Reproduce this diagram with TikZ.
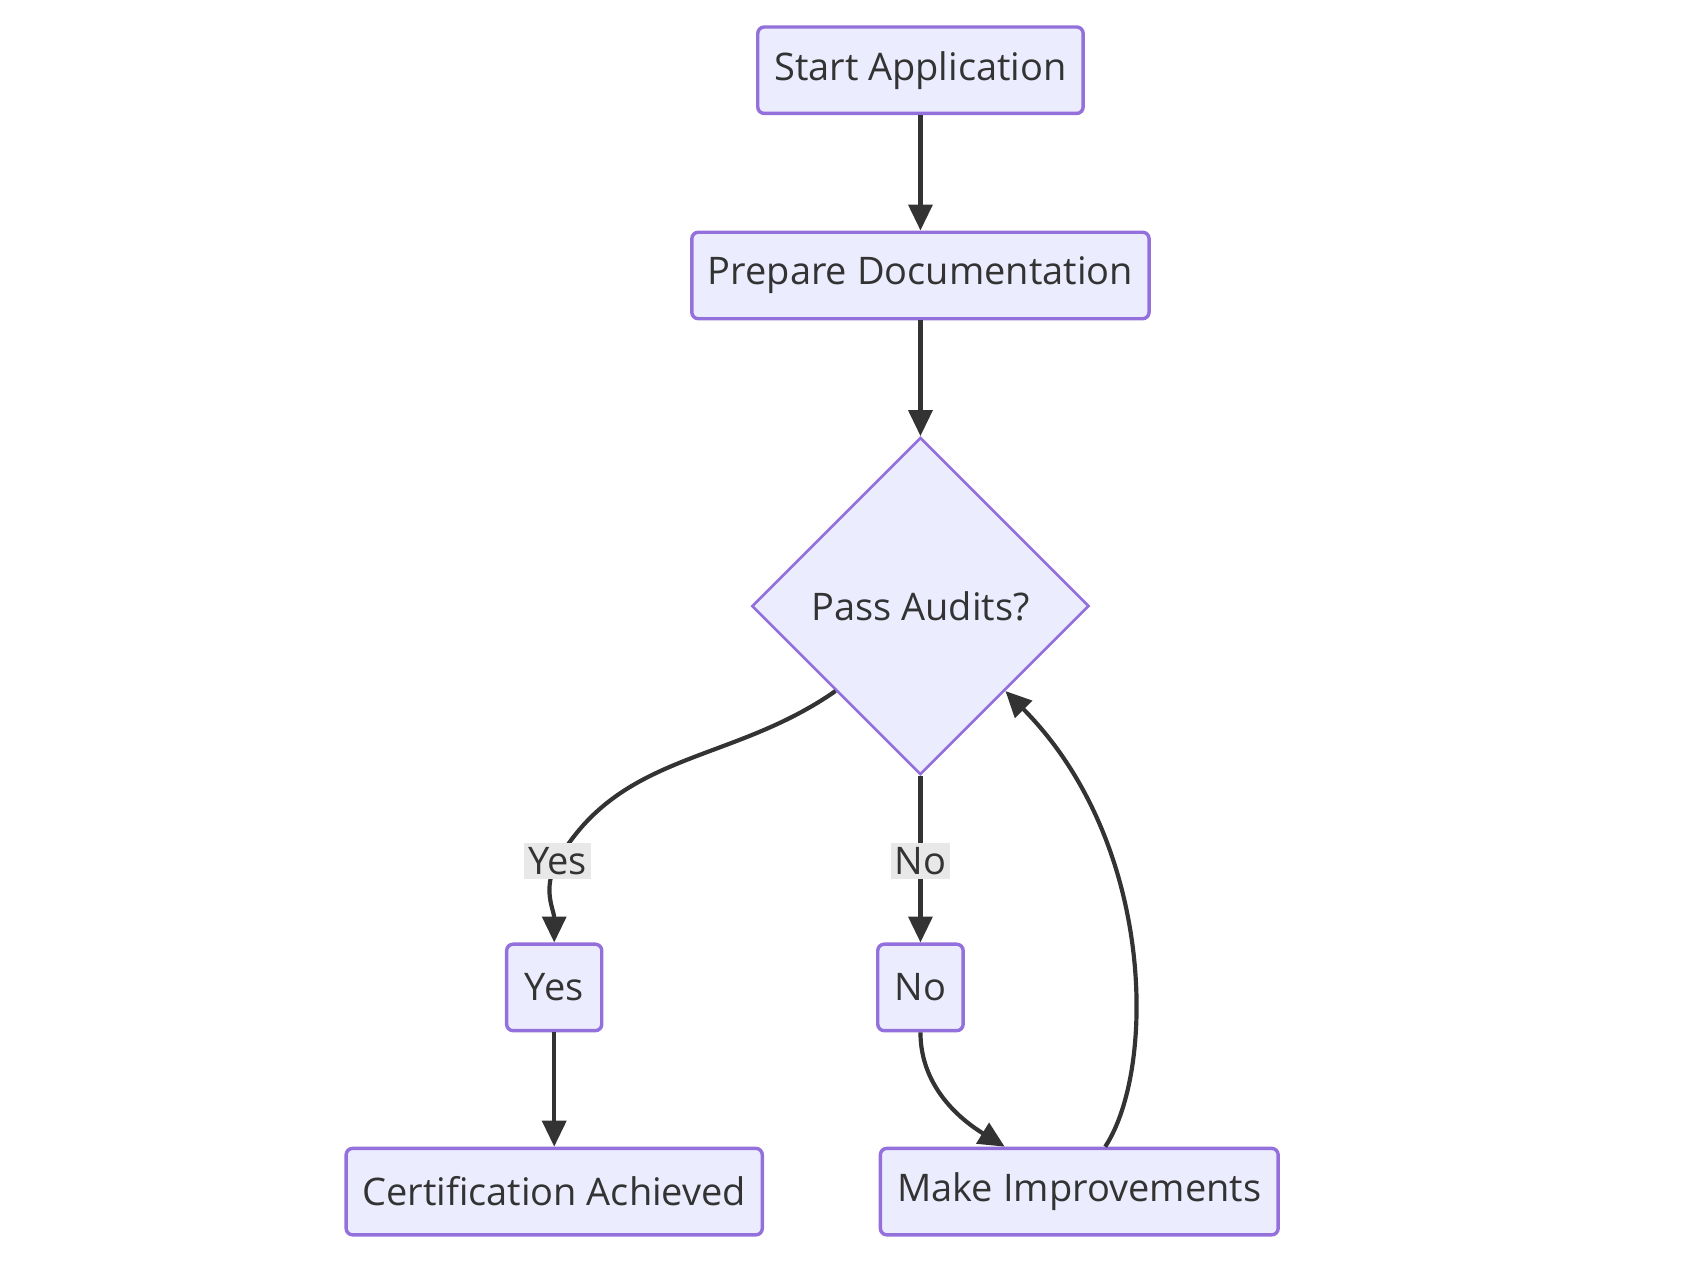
\documentclass[tikz,border=0pt]{standalone}
\usepackage{fontspec}
\setmainfont{Open Sans}
\usetikzlibrary{arrows.meta,shapes.geometric,positioning}
\definecolor{boxfill}{HTML}{ECECFF}
\definecolor{boxline}{HTML}{9370DB}
\definecolor{edgeline}{HTML}{333333}
\definecolor{labelbg}{HTML}{E8E8E8}
\tikzset{
  process/.style={draw=boxline, fill=boxfill, rounded corners=0.06cm, line width=0.9pt,
    minimum height=0.8cm, text=edgeline, font=\fontsize{10}{12}\selectfont},
  decision/.style={diamond, draw=boxline, fill=boxfill, line width=0.7pt, aspect=1,
    minimum width=3.12cm, minimum height=3.12cm, inner sep=0pt, text=edgeline,
    font=\fontsize{10}{12}\selectfont},
  edgelabel/.style={fill=labelbg, inner sep=1pt, text=edgeline, font=\fontsize{10}{12}\selectfont},
  arr/.style={-{Triangle[length=0.24cm,width=0.22cm]}, draw=edgeline, line width=1.1pt},
}
\begin{document}
\begin{tikzpicture}[x=0.01cm, y=-0.01cm]
  \useasboundingbox (0,0) rectangle (1568,1168);

  \node[process, minimum width=3.01cm] (start) at (852,65) {Start Application};
  \node[process, minimum width=4.23cm] (prep) at (852,255) {Prepare Documentation};
  \node[decision] (audit) at (852,561) {Pass Audits?};
  \node[process, minimum width=0.88cm] (yes) at (513,914) {Yes};
  \node[process, minimum width=0.79cm] (no) at (852,914) {No};
  \node[process, minimum width=3.85cm] (cert) at (513,1103) {Certification Achieved};
  \node[process, minimum width=3.68cm] (improve) at (999,1103) {Make Improvements};
  \coordinate (yesmid) at (516,797);
  \coordinate (nomid) at (852,797);

  \draw[arr] (start) -- (prep);
  \draw[arr] (prep) -- (audit);
  \draw[arr] (audit.south west) to[out=-145,in=60] (yesmid) to[out=-120,in=90] (yes.north);
  \draw[arr] (audit.south) -- (no.north);
  \draw[arr] (yes) -- (cert);
  \draw[arr] (no.south) .. controls (852,1010) and (895,1040) .. ([xshift=-0.69cm]improve.north);
  \draw[arr] ([xshift=0.24cm]improve.north) .. controls (1070,990) and (1070,780) .. (audit.south east);

  \node[edgelabel] (yeslabel) at (yesmid) {Yes};
  \node[edgelabel] (nolabel) at (nomid) {No};
\end{tikzpicture}
\end{document}
